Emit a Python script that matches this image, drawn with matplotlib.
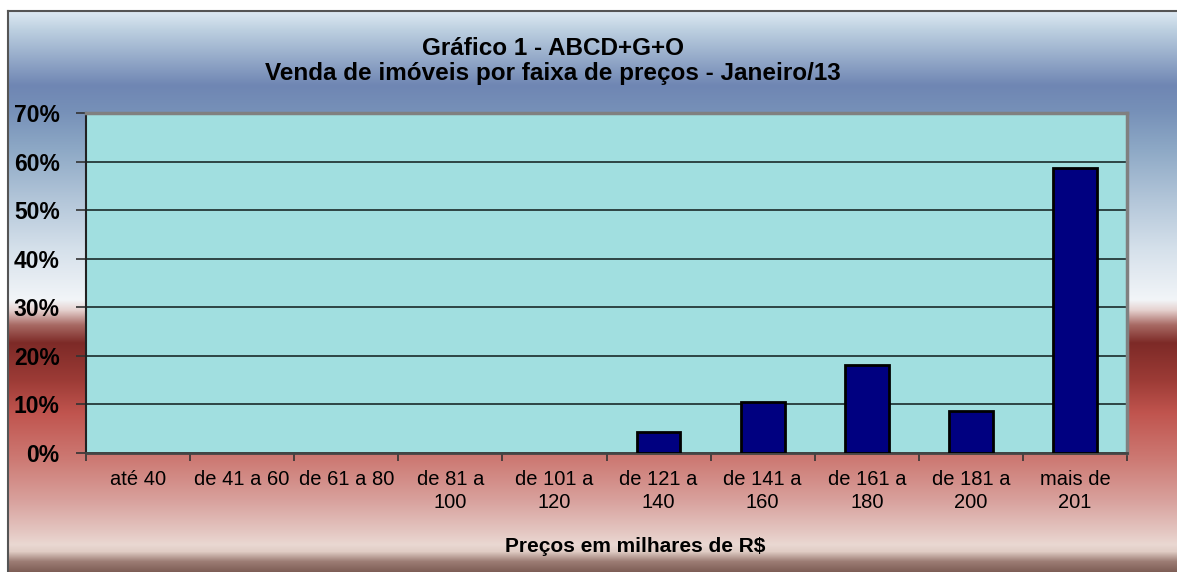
import numpy as np
import matplotlib
matplotlib.use("Agg")
import matplotlib.pyplot as plt
from matplotlib.colors import to_rgb

# chart data
categorias = ["até 40", "de 41 a 60", "de 61 a 80", "de 81 a\n100", "de 101 a\n120",
              "de 121 a\n140", "de 141 a\n160", "de 161 a\n180", "de 181 a\n200", "mais de\n201"]
vendas = [0.0, 0.0, 0.0, 0.0, 0.0, 4.3, 10.4, 18.1, 8.7, 58.6]
y_ticks = [0, 10, 20, 30, 40, 50, 60, 70]

titulo = "Gráfico 1 - ABCD+G+O\nVenda de imóveis por faixa de preços - Janeiro/13"
rotulo_x = "Preços em milhares de R$"

# background gradient stops (pixel row, colour) - excel style fill
grad_stops = [(11, "#dde9f2"), (30, "#bccfe0"), (85, "#6f86b3"), (110, "#7690b8"),
              (150, "#8ea9c6"), (200, "#b3c6d9"), (250, "#d6e1eb"), (300, "#f2f5f8"),
              (310, "#e6d2d0"), (325, "#a86a64"), (343, "#7d2a27"), (380, "#9c3b36"),
              (413, "#c0544e"), (460, "#cd7a74"), (500, "#d8a09c"), (530, "#e3c4bf"),
              (545, "#ead8d2"), (552, "#e0ccc4"), (562, "#9c7c74"), (572, "#7e5e56")]

W, H = 1177, 572
fig = plt.figure(figsize=(W / 100, H / 100), dpi=100)
fig.patch.set_facecolor("white")

plt.rcParams["font.family"] = ["Liberation Sans", "DejaVu Sans"]

# frame with gradient
bg = fig.add_axes([8 / W, 0, (W - 8) / W, (H - 11) / H])
rows = np.arange(11, H + 1)
ys = [s[0] for s in grad_stops]
cols = np.array([to_rgb(s[1]) for s in grad_stops])
img = np.stack([np.interp(rows, ys, cols[:, k]) for k in range(3)], axis=1)
bg.imshow(img[:, None, :], aspect="auto", extent=[0, 1, 0, 1], interpolation="bilinear")
bg.set_xticks([])
bg.set_yticks([])
for side in ["right", "bottom"]:
    bg.spines[side].set_visible(False)
for side in ["left", "top"]:
    bg.spines[side].set_color("#555555")
    bg.spines[side].set_linewidth(1.5)

# plot area
left, right, top, bottom = 86, 1127, 113, 453
ax = fig.add_axes([left / W, (H - bottom) / H, (right - left) / W, (bottom - top) / H])
ax.set_facecolor("#a1dfe0")
x = np.arange(len(categorias))
ax.bar(x, vendas, width=0.42, color="#000080", edgecolor="black",
       linewidth=[2 if v > 0 else 0 for v in vendas], zorder=3)
ax.set_xlim(-0.5, len(categorias) - 0.5)
ax.set_ylim(0, 70)
ax.set_yticks(y_ticks)
ax.set_yticklabels([f"{v}%" for v in y_ticks], fontsize=16.5, fontweight="bold")
ax.yaxis.grid(True, color="#1a2a2a", linewidth=1.2, zorder=1)
ax.set_axisbelow(True)

# category boundaries as ticks, labels in the middle
ax.set_xticks(np.arange(len(categorias) + 1) - 0.5)
ax.set_xticklabels([])
ax.set_xticks(x, minor=True)
ax.set_xticklabels(categorias, minor=True, fontsize=14.5, va="top", linespacing=1.3)
ax.tick_params(axis="x", which="minor", length=0, pad=12)
ax.tick_params(axis="x", which="major", length=6, width=1.2, color="#333333")
ax.tick_params(axis="y", length=7, width=1.2, color="#333333", pad=12)

ax.spines["left"].set_color("#222222")
ax.spines["left"].set_linewidth(1.5)
ax.spines["bottom"].set_color("#444444")
ax.spines["bottom"].set_linewidth(2)
ax.spines["top"].set_color("#808080")
ax.spines["top"].set_linewidth(2.5)
ax.spines["right"].set_color("#808080")
ax.spines["right"].set_linewidth(2.5)

fig.text(553 / W, 1 - 61 / H, titulo, ha="center", va="center", fontsize=17.5,
         fontweight="bold", linespacing=1.15)
fig.text(635 / W, 1 - 546 / H, rotulo_x, ha="center", va="center", fontsize=15,
         fontweight="bold")

fig.savefig("out.png", dpi=100)
